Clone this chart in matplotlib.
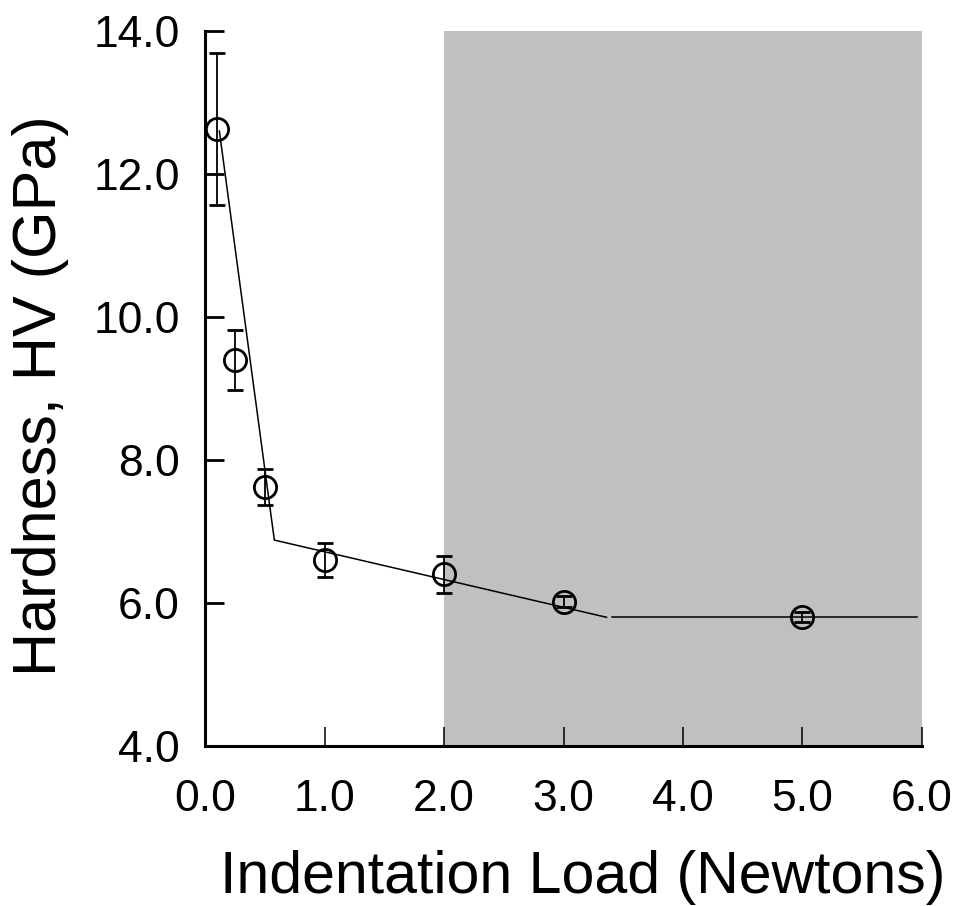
import matplotlib
matplotlib.use("Agg")
import matplotlib.pyplot as plt

plt.rcParams['font.family'] = ['Liberation Sans', 'DejaVu Sans']

# data
load = [0.1, 0.25, 0.5, 1.0, 2.0, 3.0, 5.0]
hardness = [12.63, 9.40, 7.62, 6.60, 6.40, 6.02, 5.80]
err = [1.06, 0.42, 0.25, 0.24, 0.26, 0.08, 0.07]

# fitted line pieces
fit1_x = [0.12, 0.58, 3.36]
fit1_y = [12.60, 6.88, 5.80]
fit2_x = [3.41, 5.96]
fit2_y = [5.80, 5.80]

# shaded load range
shade_x = [2.0, 6.0]

fig = plt.figure(figsize=(9.59, 9.06), dpi=100)
ax = fig.add_axes([0.2138, 0.1766, 0.7476, 0.7892])

ax.axvspan(shade_x[0], shade_x[1], color='#c0c0c0', lw=0, zorder=0)

ax.plot(fit1_x, fit1_y, color='black', lw=1.1, zorder=2)
ax.plot(fit2_x, fit2_y, color='black', lw=1.1, zorder=2)

ax.errorbar(load, hardness, yerr=err, fmt='o', mfc='none', mec='black',
            mew=2.0, ms=16, ecolor='black', elinewidth=1.3, capsize=5.5,
            capthick=1.5, zorder=3)

ax.set_xlim(0, 6)
ax.set_ylim(4, 14)
ax.set_xticks([0, 1, 2, 3, 4, 5, 6])
ax.set_xticklabels(['0.0', '1.0', '2.0', '3.0', '4.0', '5.0', '6.0'])
ax.set_yticks([4, 6, 8, 10, 12, 14])
ax.set_yticklabels(['4.0', '6.0', '8.0', '10.0', '12.0', '14.0'])

ax.spines['top'].set_visible(False)
ax.spines['right'].set_visible(False)
ax.spines['left'].set_linewidth(2.2)
ax.spines['bottom'].set_linewidth(2.2)
ax.tick_params(direction='in', length=14, width=1.1, labelsize=32)
ax.tick_params(axis='x', pad=24)
ax.tick_params(axis='y', width=2.0, pad=18)

ax.set_xlabel('Indentation Load (Newtons)', fontsize=42.5)
ax.set_ylabel('Hardness, HV (GPa)', fontsize=44)
ax.xaxis.set_label_coords(0.527, -0.145)
ax.yaxis.set_label_coords(-0.19, 0.49)

fig.savefig('out.png', dpi=100)
